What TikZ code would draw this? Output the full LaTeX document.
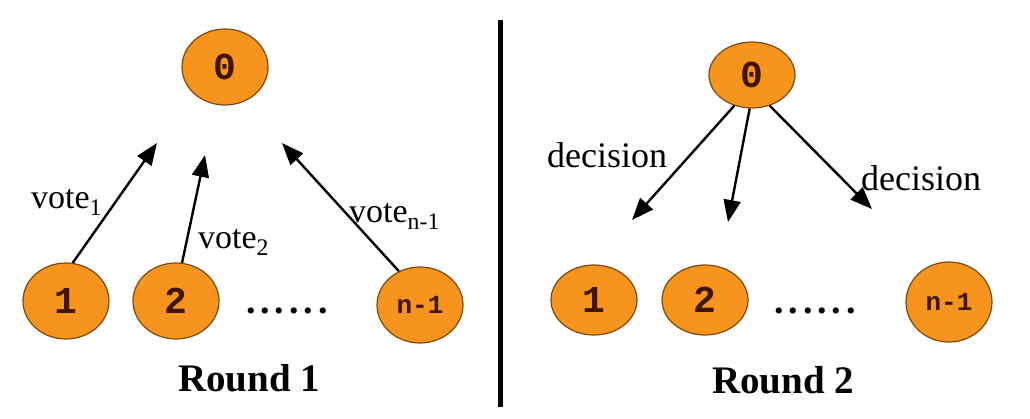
\documentclass[tikz,border=0pt]{standalone}
\usepackage{fontspec}
\setmainfont{Liberation Serif}
\newfontfamily\monob{Liberation Mono}
\usetikzlibrary{shapes.geometric,arrows.meta}
\definecolor{nodeorange}{HTML}{F7941D}
\definecolor{nodeedge}{HTML}{7A4A10}
\definecolor{nodetext}{HTML}{3F1500}
\newcommand{\sixdots}{.\kern5pt.\kern5pt.\kern5pt.\kern5pt.\kern5pt.}
\tikzset{
  proc/.style={ellipse, draw=nodeedge, line width=1.2pt, fill=nodeorange,
    minimum width=86pt, minimum height=76pt, inner sep=0pt,
    text=nodetext, font=\monob\bfseries\fontsize{38}{38}\selectfont},
  procsmall/.style={proc, font=\monob\bfseries\fontsize{26}{26}\selectfont},
  msg/.style={line width=2.4pt, -{Triangle[length=22pt,width=17pt]}},
  lbl/.style={font=\fontsize{34}{34}\selectfont, inner sep=0pt, anchor=base west},
  rnd/.style={font=\bfseries\fontsize{39}{39}\selectfont, inner sep=0pt},
  dots/.style={font=\bfseries\fontsize{38}{38}\selectfont, inner sep=0pt}
}
\begin{document}
\begin{tikzpicture}[x=1pt,y=-1pt]
\useasboundingbox (0,0) rectangle (1030,418);
% ---------- Round 1 ----------
\node[proc] (a0) at (225,67) {0};
\node[proc] (a1) at (66,301) {1};
\node[proc] (a2) at (176,301) {2};
\node[procsmall] (an) at (420,305) {n-1};
\node[dots] (adots) at (287,311) {\sixdots};
\node[rnd] (r1) at (249,378) {Round 1};
\coordinate (t1) at (157,143);
\coordinate (t2) at (205,155);
\coordinate (tn) at (282,143);
\draw[msg] (a1.80) -- (t1);
\draw[msg] (a2.81) -- (t2);
\draw[msg] (an.122) -- (tn);
\node[lbl] (v1) at (31,208) {vote\textsubscript{1}};
\node[lbl] (v2) at (198,248) {vote\textsubscript{2}};
\node[lbl] (vn) at (349,222) {vote\textsubscript{n-1}};
% ---------- divider ----------
\coordinate (dtop) at (500,20);
\coordinate (dbot) at (500,407);
\draw[line width=5pt] (dtop) -- (dbot);
% ---------- Round 2 ----------
\node[proc, minimum height=66pt] (b0) at (752,75) {0};
\node[proc, minimum height=70pt] (b1) at (594,300) {1};
\node[proc, minimum height=70pt] (b2) at (705,300) {2};
\node[procsmall, minimum height=80pt] (bn) at (949,302) {n-1};
\node[dots] (bdots) at (815,311) {\sixdots};
\node[rnd] (r2) at (783,380) {Round 2};
\coordinate (s1) at (632,220);
\coordinate (s2) at (728,222);
\coordinate (sn) at (872,209);
\draw[msg] (b0.240) -- (s1);
\draw[msg] (b0.266) -- (s2);
\draw[msg] (b0.300) -- (sn);
\node[lbl, font=\fontsize{36}{36}\selectfont] (d1) at (547,167) {decision};
\node[lbl, font=\fontsize{36}{36}\selectfont] (d2) at (861,190) {decision};
\end{tikzpicture}
\end{document}
